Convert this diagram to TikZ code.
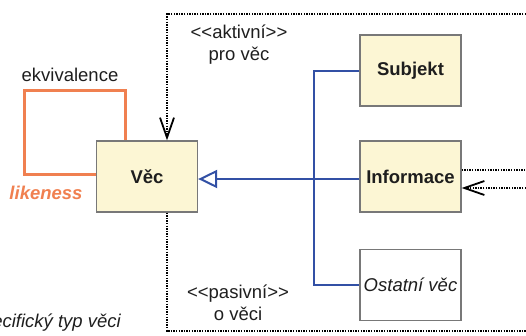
\documentclass[tikz,border=0pt]{standalone}
\usepackage{fontspec}
\setmainfont{Liberation Sans}
\usetikzlibrary{arrows.meta}

\definecolor{boxfill}{RGB}{252,246,212}
\definecolor{boxline}{RGB}{120,120,120}
\definecolor{genblue}{RGB}{50,80,165}
\definecolor{eqorange}{RGB}{240,128,80}
\definecolor{ink}{RGB}{30,30,30}

% guillemet-free angle pairs (kern keeps the font mapping from merging them)
\newcommand\oLT{<\kern0pt<}
\newcommand\oGT{>\kern0pt>}

\tikzset{
  classbox/.style={draw=boxline, line width=1.3pt, fill=boxfill,
    minimum width=101pt, minimum height=71pt, inner sep=0pt,
    font=\fontsize{18.5}{22}\selectfont\bfseries, text=ink},
  otherbox/.style={classbox, fill=white, font=\fontsize{18.5}{22}\selectfont\itshape},
  generalization/.style={draw=genblue, line width=2pt,
    -{Triangle[open, length=19pt, width=18pt, line width=2pt]}},
  genline/.style={draw=genblue, line width=2pt},
  dependency/.style={draw=black, line width=2.2pt, dash pattern=on 1.4pt off 1.2pt},
  barbtip/.style={-{Straight Barb[length=20pt, width=14pt, line width=1.8pt]}},
  equivalence/.style={draw=eqorange, line width=3pt},
  lbl/.style={font=\fontsize{18.5}{22}\selectfont, text=ink, inner sep=0pt, align=center},
}

\begin{document}
\begin{tikzpicture}[x=1pt, y=-1pt]
  \useasboundingbox (0,0) rectangle (526,335);

  % classes
  \node[classbox] (vec) at (147,176.5) {Věc};
  \node[classbox] (subjekt) at (410.5,70.5) {Subjekt};
  \node[classbox] (informace) at (410.5,176.5) {Informace};
  \node[otherbox] (ostatni) at (410.5,285) {Ostatní věc};

  % free ends at the right border and helper points
  \coordinate (topR) at (526,14);
  \coordinate (botR) at (526,331);
  \coordinate (infR1) at (526,170);
  \coordinate (infR2) at (526,188);
  \coordinate (trunk) at (314,0);
  \coordinate (loopTL) at (24,90);

  % generalization tree
  \draw[genline] (subjekt.west) -| (trunk |- ostatni.west) -- (ostatni.west);
  \draw[generalization] ([yshift=-2.5pt]informace.west) -- ([yshift=-2.5pt]vec.east);

  % dependencies
  \draw[dependency, barbtip] (topR) -| ([xshift=20pt]vec.north);
  \draw[dependency] ([xshift=20pt]vec.south) |- (botR);
  \draw[dependency] ([yshift=6.5pt]informace.east) -- (infR1);
  \draw[dependency, barbtip] (infR2) -- ([yshift=-11.5pt]informace.east);

  % self association
  \draw[equivalence] ([xshift=-22pt]vec.north) |- (loopTL) |- ([yshift=2.5pt]vec.west);

  % labels
  \node[lbl] (ekv) at (70,75) {ekvivalence};
  \node[lbl, text=eqorange, font=\fontsize{18.5}{22}\selectfont\bfseries\itshape] (like) at (46,193) {likeness};
  \node[lbl] (akt) at (239,45) {\oLT aktivní\oGT\\pro věc};
  \node[lbl] (pas) at (238,303) {\oLT pasivní\oGT\\o věci};
  \node[lbl, font=\fontsize{18.5}{22}\selectfont\itshape, anchor=base east] (spec) at (121,327) {Specifický typ věci};
\end{tikzpicture}
\end{document}
